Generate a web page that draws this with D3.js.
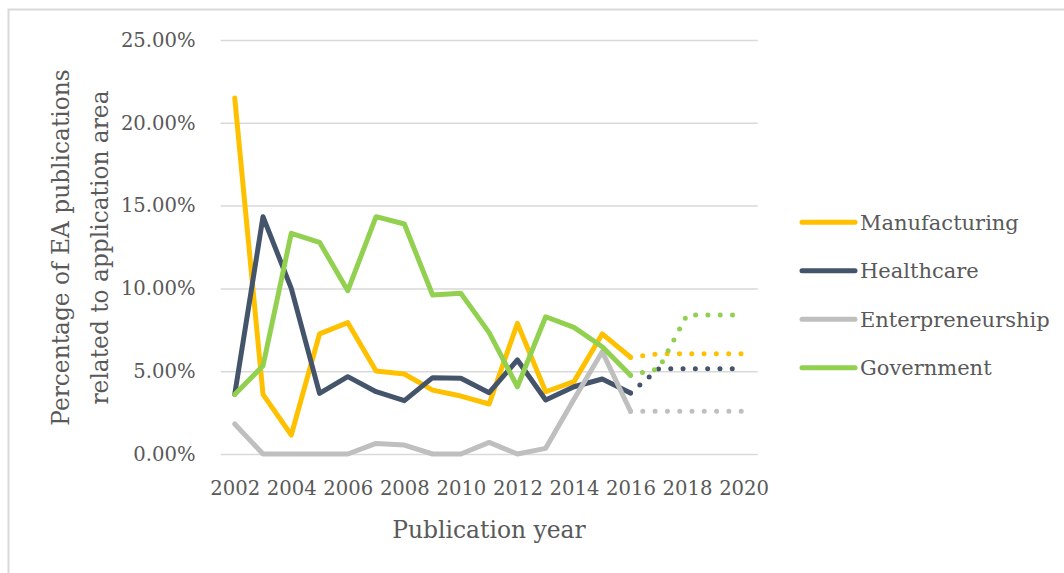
<!DOCTYPE html>
<html>
<head>
<meta charset="utf-8">
<script src="https://cdn.jsdelivr.net/npm/d3@7/dist/d3.min.js"></script>
<style>
  html, body { margin: 0; padding: 0; background: #fff; }
  svg { display: block; }
  text { font-family: "DejaVu Serif", serif; fill: #595959; }
</style>
</head>
<body>
<svg id="chart" width="1064" height="573"></svg>
<script>
// Publication years on the category axis
const years = d3.range(2002, 2021);
const yearTicks = ["2002", "2004", "2006", "2008", "2010", "2012", "2014", "2016", "2018", "2020"];
const yTickValues = [0, 0.05, 0.10, 0.15, 0.20, 0.25];

// Observed shares, 2002–2016
const observedYears = d3.range(2002, 2017);
const manufacturing = [0.2150, 0.0360, 0.0115, 0.0725, 0.0793, 0.0501, 0.0483, 0.0386, 0.0350, 0.0302, 0.0789, 0.0376, 0.0437, 0.0725, 0.0584];
const healthcare    = [0.0360, 0.1433, 0.1000, 0.0366, 0.0467, 0.0376, 0.0322, 0.0461, 0.0457, 0.0370, 0.0568, 0.0326, 0.0406, 0.0453, 0.0369];
const entrepreneurship = [0.0181, 0.0000, 0.0000, 0.0000, 0.0000, 0.0064, 0.0054, 0.0000, 0.0000, 0.0070, 0.0000, 0.0034, 0.0330, 0.0618, 0.0258];
const government    = [0.0360, 0.0533, 0.1333, 0.1278, 0.0986, 0.1433, 0.1389, 0.0960, 0.0970, 0.0733, 0.0406, 0.0829, 0.0765, 0.0648, 0.0475];

// Projected shares, 2016–2020 (dotted)
const projectedYears = d3.range(2016, 2021);
const manufacturingProj    = [0.0584, 0.0605, 0.0605, 0.0605, 0.0605];
const healthcareProj       = [0.0369, 0.0515, 0.0515, 0.0515, 0.0515];
const entrepreneurshipProj = [0.0258, 0.0258, 0.0258, 0.0258, 0.0258];
const governmentProj       = [0.0475, 0.0515, 0.0840, 0.0840, 0.0840];

const seriesNames  = ["Manufacturing", "Healthcare", "Enterpreneurship", "Government"];
const seriesColors = ["#FFC000", "#44546A", "#BFBFBF", "#92D050"];

const series = [
  { name: seriesNames[0], color: seriesColors[0], obs: manufacturing,    proj: manufacturingProj },
  { name: seriesNames[1], color: seriesColors[1], obs: healthcare,       proj: healthcareProj },
  { name: seriesNames[2], color: seriesColors[2], obs: entrepreneurship, proj: entrepreneurshipProj },
  { name: seriesNames[3], color: seriesColors[3], obs: government,       proj: governmentProj }
];

const svg = d3.select("#chart");

// Chart area frame
svg.append("rect")
  .attr("x", 8.5).attr("y", 9.5)
  .attr("width", 1070).attr("height", 580)
  .attr("fill", "#fff")
  .attr("stroke", "#D9D9D9").attr("stroke-width", 2);

const plot = { left: 220.6, right: 757.7, top: 40, bottom: 454 };

const x = d3.scalePoint().domain(years).range([plot.left, plot.right]).padding(0.5);
const y = d3.scaleLinear().domain([0, 0.25]).range([plot.bottom, plot.top]);

// Horizontal gridlines + value labels
const yAxis = d3.axisLeft(y)
  .tickValues(yTickValues)
  .tickSize(-(plot.right - plot.left))
  .tickPadding(25)
  .tickFormat(d3.format(".2%"));

const gy = svg.append("g")
  .attr("transform", `translate(${plot.left},0)`)
  .call(yAxis);
gy.select(".domain").remove();
gy.selectAll(".tick line").attr("stroke", "#D9D9D9").attr("stroke-width", 1.5);
gy.selectAll(".tick text")
  .attr("font-size", 19.6)
  .attr("font-family", "DejaVu Serif")
  .attr("fill", "#595959");

// Year labels
const xAxis = d3.axisBottom(x)
  .tickValues(yearTicks.map(Number))
  .tickSize(0)
  .tickPadding(27)
  .tickFormat(d3.format("d"));
const gx = svg.append("g")
  .attr("transform", `translate(0,${plot.bottom})`)
  .call(xAxis);
gx.select(".domain").remove();
gx.selectAll(".tick text")
  .attr("font-size", 19.6)
  .attr("font-family", "DejaVu Serif")
  .attr("fill", "#595959");

// Series lines
const line = d3.line()
  .x(d => x(d[0]))
  .y(d => y(d[1]));

const lines = svg.append("g");
series.forEach(s => {
  lines.append("path")
    .datum(observedYears.map((yr, i) => [yr, s.obs[i]]))
    .attr("d", line)
    .attr("fill", "none")
    .attr("stroke", s.color)
    .attr("stroke-width", 5)
    .attr("stroke-linejoin", "round")
    .attr("stroke-linecap", "round");
});
series.forEach(s => {
  lines.append("path")
    .datum(projectedYears.map((yr, i) => [yr, s.proj[i]]))
    .attr("d", line)
    .attr("fill", "none")
    .attr("stroke", s.color)
    .attr("stroke-width", 5)
    .attr("stroke-dasharray", "0 12.3")
    .attr("stroke-linecap", "round");
});

// Axis titles
svg.append("text")
  .attr("x", 489).attr("y", 538)
  .attr("text-anchor", "middle")
  .attr("font-size", 23.4)
  .text("Publication year");

const yTitle = svg.append("text")
  .attr("transform", "translate(0,247.5) rotate(-90)")
  .attr("text-anchor", "middle")
  .attr("font-size", 23.3);
yTitle.append("tspan").attr("x", 0).attr("y", 69).text("Percentage of EA publications");
yTitle.append("tspan").attr("x", 0).attr("y", 108).text("related to application area");

// Legend
const legend = svg.append("g");
series.forEach((s, i) => {
  const ly = 222.3 + i * 48.5;
  legend.append("line")
    .attr("x1", 802).attr("x2", 855)
    .attr("y1", ly).attr("y2", ly)
    .attr("stroke", s.color)
    .attr("stroke-width", 5)
    .attr("stroke-linecap", "round");
  legend.append("text")
    .attr("x", 860).attr("y", ly)
    .attr("dy", "0.35em")
    .attr("font-size", 21)
    .text(s.name);
});
</script>
</body>
</html>
